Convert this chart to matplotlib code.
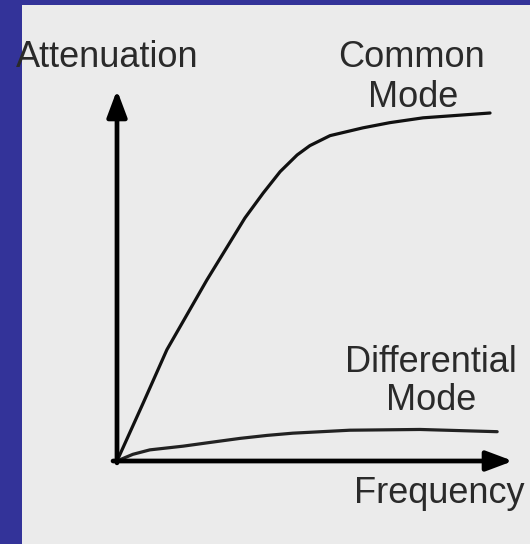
import matplotlib
matplotlib.use("Agg")
import matplotlib.pyplot as plt
from matplotlib.patches import Rectangle

# frequency (normalised) and attenuation (normalised)
common_x = [0.0, 0.066, 0.126, 0.227, 0.323, 0.369, 0.412, 0.455, 0.487,
            0.538, 0.621, 0.689, 0.773, 0.942]
common_y = [0.0, 0.156, 0.300, 0.488, 0.655, 0.722, 0.780, 0.825, 0.850,
            0.877, 0.898, 0.912, 0.925, 0.938]

diff_x = [0.0, 0.040, 0.083, 0.167, 0.235, 0.311, 0.379, 0.444, 0.588, 0.765, 0.960]
diff_y = [0.0, 0.018, 0.030, 0.040, 0.050, 0.061, 0.069, 0.075, 0.083, 0.085, 0.079]

y_label = "Attenuation"
x_label = "Frequency"
common_label = ["Common", "Mode"]
diff_label = ["Differential", "Mode"]

W, H = 530, 544
fig = plt.figure(figsize=(W / 100, H / 100), dpi=100)
fig.patch.set_facecolor("#333399")

# light grey panel inside the blue frame
fig.patches.append(Rectangle((22 / W, 0), 1 - 22 / W, 1 - 5 / H,
                             transform=fig.transFigure, facecolor="#ebebeb",
                             edgecolor="none", zorder=-5))

ax = fig.add_axes([117 / W, (H - 461) / H, 396 / W, 371 / H])
ax.set_zorder(2)
ax.set_xlim(0, 1)
ax.set_ylim(0, 1)
ax.axis("off")

ax.plot(common_x, common_y, color="#111111", lw=2.3, solid_capstyle="round",
        solid_joinstyle="round", clip_on=False)
ax.plot(diff_x, diff_y, color="#222222", lw=2.3, solid_capstyle="round",
        solid_joinstyle="round", clip_on=False)

arrow = dict(arrowstyle="-|>,head_length=1.6,head_width=0.6", lw=3.4,
             color="black", shrinkA=0, shrinkB=0, mutation_scale=10)
ax.annotate("", xy=(1, 0), xytext=(-0.01, 0), arrowprops=arrow, annotation_clip=False)
ax.annotate("", xy=(0, 1), xytext=(0, -0.005), arrowprops=arrow, annotation_clip=False)

font = dict(family="Liberation Sans", fontsize=26, color="#2a2a2a", va="baseline", ha="center")
fig.text(107 / W, 1 - 67 / H, y_label, **font)
fig.text(411 / W, 1 - 67 / H, common_label[0], **font)
fig.text(413 / W, 1 - 107 / H, common_label[1], **font)
fig.text(431 / W, 1 - 372 / H, diff_label[0], **font)
fig.text(431 / W, 1 - 410 / H, diff_label[1], **font)
fig.text(439 / W, 1 - 503 / H, x_label, **font)

fig.savefig("out.png", dpi=100, facecolor=fig.get_facecolor())
